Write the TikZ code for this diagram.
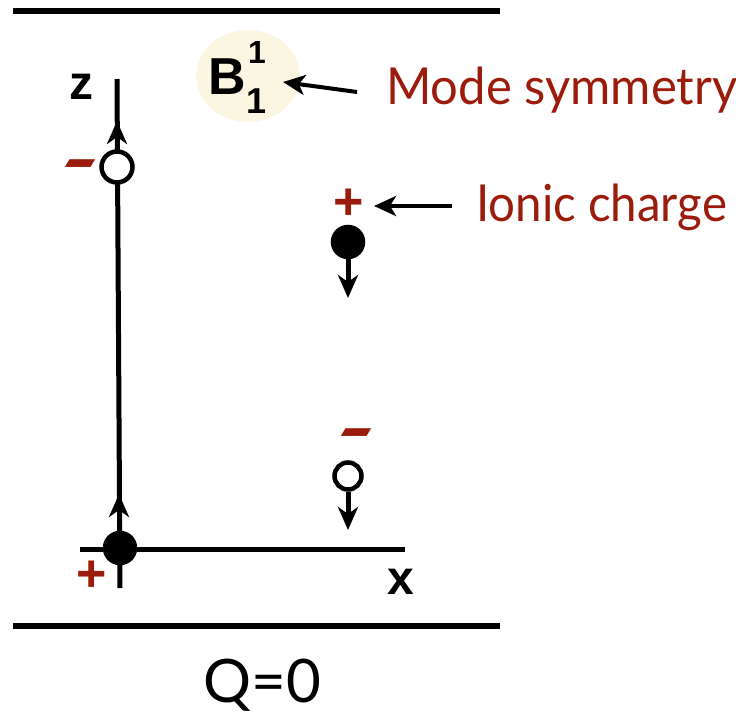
\documentclass[tikz,border=0pt]{standalone}
\usepackage{fontspec}
\setmainfont{Lato}
\newfontfamily\handfont{Liberation Sans}
\usetikzlibrary{arrows.meta,shapes.geometric}
\definecolor{ionred}{RGB}{155,28,12}
\definecolor{cream}{RGB}{251,246,226}
\begin{document}
\begin{tikzpicture}[x=1pt,y=-1pt,
  axis/.style={line width=5pt},
  bound/.style={line width=5.5pt},
  ion/.style={circle, draw=black, line width=4.5pt, inner sep=0pt, minimum size=30pt},
  filledion/.style={ion, fill=black},
  openion/.style={ion, fill=white},
  mid/.style={line width=5pt, -{Stealth[length=23pt,width=20pt,inset=7pt]}},
  plus/.style={text=ionred, font=\handfont\bfseries\fontsize{52}{52}\selectfont, inner sep=0pt},
  minus/.style={text=ionred, font=\handfont\bfseries\fontsize{52}{52}\selectfont, inner sep=0pt, yscale=1.5, xslant=0.9, transform shape},
  axlabel/.style={font=\handfont\bfseries\fontsize{48}{48}\selectfont, inner sep=0pt},
  caption/.style={text=ionred, font=\fontsize{51}{51}\selectfont, inner sep=0pt},
  pointer/.style={line width=4pt, -{Stealth[length=22pt,width=20pt,inset=6pt]}},
]
\useasboundingbox (0,0) rectangle (736,714);
% bounding lines
\coordinate (tl) at (13,11); \coordinate (tr) at (500,11);
\coordinate (bl) at (13,626); \coordinate (br) at (500,626);
\draw[bound] (tl) -- (tr);
\draw[bound] (bl) -- (br);
% axes
\coordinate (ztop) at (117,79); \coordinate (zbot) at (120,588);
\coordinate (xl) at (80,549); \coordinate (xr) at (405,549);
\draw[axis] (ztop) -- (zbot);
\draw[axis] (xl) -- (xr);
\node[axlabel] (zlab) at (81,87) {z};
\node[axlabel] (xlab) at (401,582) {x};
% arrowheads on z axis
\coordinate (a1s) at (117,148); \coordinate (a1t) at (117,121);
\draw[mid] (a1s) -- (a1t);
\coordinate (a2s) at (119,524); \coordinate (a2t) at (119,494);
\draw[mid] (a2s) -- (a2t);
% ions on axis
\node[openion, minimum size=31pt] (o1) at (117,167) {};
\node[filledion, minimum size=30pt] (f1) at (120,548) {};
% right ions
\node[filledion] (f2) at (348,242) {};
\coordinate (f2tip) at (348,298);
\draw[mid] (f2) -- (f2tip);
\node[openion, minimum size=27pt] (o2) at (348,476) {};
\coordinate (o2tip) at (348,530);
\draw[mid] (o2) -- (o2tip);
% charges
\node[minus] (m1) at (75,172) {–};
\node[plus] (p1) at (92,576) {+};
\node[plus] (p2) at (349,204) {+};
\node[minus] (m2) at (351,441) {–};
% mode symmetry
\node[ellipse, fill=cream, minimum width=104pt, minimum height=92pt] (bell) at (248,76) {};
\node[font=\handfont\bfseries\fontsize{52}{52}\selectfont, inner sep=0pt] (bsym) at (227,77) {B};
\node[font=\handfont\bfseries\fontsize{32}{32}\selectfont, inner sep=0pt] (bsup) at (257,52) {1};
\node[font=\handfont\bfseries\fontsize{36}{36}\selectfont, inner sep=0pt] (bsub) at (257,101) {1};
\node[caption, anchor=base west] (ms) at (386,105) {\scalebox{0.96}[1]{Mode symmetry}};
\coordinate (mstail) at (357,92); \coordinate (mstip) at (283,82);
\draw[pointer] (mstail) -- (mstip);
% ionic charge
\node[caption, anchor=base west] (ic) at (476,222) {\scalebox{0.93}[1]{Ionic charge}};
\coordinate (ictail) at (452,206); \coordinate (ictip) at (374,206);
\draw[pointer] (ictail) -- (ictip);
% Q=0
\node[font=\fontsize{60}{60}\selectfont, inner sep=0pt, anchor=base] (q) at (262,702) {Q=0};
\end{tikzpicture}
\end{document}
